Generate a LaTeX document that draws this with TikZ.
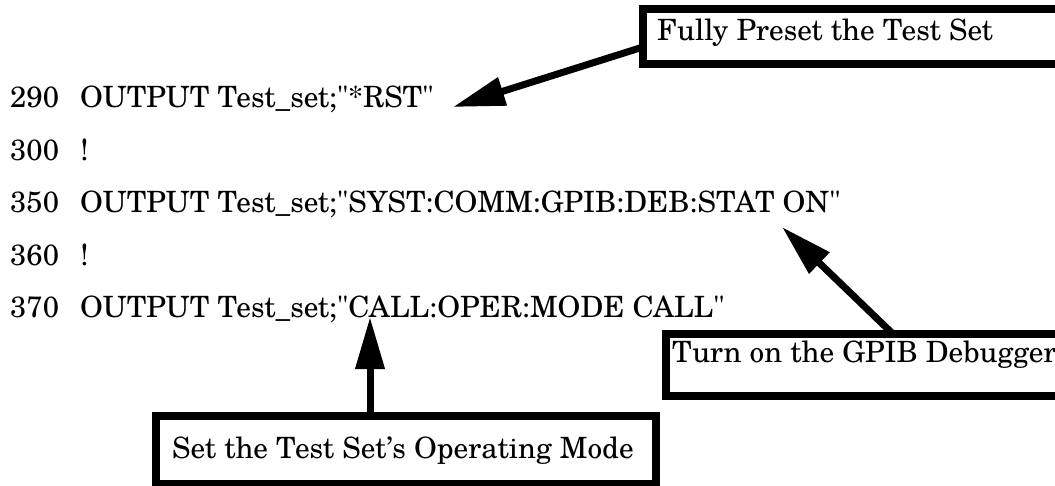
\documentclass[tikz,border=0pt]{standalone}
\usepackage{fontspec}
% family without TeX ligature mapping, so " stays a straight double quote
\newfontfamily\schola{TeX Gyre Schola}
\newcommand\listingfont{\schola\fontsize{29.3}{35}\selectfont}
\usetikzlibrary{arrows.meta}
\begin{document}
\begin{tikzpicture}[x=1pt,y=-1pt,
  lineno/.style={anchor=base west, inner sep=0pt, font=\listingfont},
  code/.style={anchor=base west, inner sep=0pt, font=\listingfont},
  frame/.style={draw, line width=8pt, inner sep=0pt, outer sep=4pt, anchor=north west},
  note/.style={anchor=base west, inner sep=0pt, font=\listingfont},
  pointer/.style={line width=7pt, -{Triangle[length=52pt,width=28pt]}}]
\clip (0,0) rectangle (1055,485);

% program listing
\node[lineno] (n290) at (10,107) {290};
\node[code]   (c290) at (80,107) {OUTPUT Test\_set;"*RST"};
\node[lineno] (n300) at (10,160) {300};
\node[code]   (c300) at (80,160) {!};
\node[lineno] (n350) at (10,212) {350};
\node[code]   (c350) at (80,212) {OUTPUT Test\_set;"SYST:COMM:GPIB:DEB:STAT ON"};
\node[lineno] (n360) at (10,265) {360};
\node[code]   (c360) at (80,265) {!};
\node[lineno] (n370) at (10,317) {370};
\node[code]   (c370) at (80,317) {OUTPUT Test\_set;"CALL:OPER:MODE CALL"};

% callout frames
\node[frame, minimum width=437pt, minimum height=55pt] (fp) at (639,5) {};
\node[note] (fpt) at (657,40) {Fully Preset the Test Set};
\node[frame, minimum width=419pt, minimum height=62pt] (gp) at (662,330) {};
\node[note] (gpt) at (672,362) {Turn on the GPIB Debugger};
\node[frame, minimum width=500pt, minimum height=68pt] (om) at (152,412) {};
\node[note] (omt) at (172,458) {Set the Test Set’s Operating Mode};

% arrow ends
\coordinate (fpout) at (643,47);
\coordinate (rsttip) at (453,107);
\coordinate (gpout) at (893,334);
\coordinate (debtip) at (782,227);
\coordinate (omout) at (370,416);
\coordinate (modetip) at (370,317);

\draw[pointer] (fpout) -- (rsttip);
\draw[pointer] (gpout) -- (debtip);
\draw[pointer] (omout) -- (modetip);
\end{tikzpicture}
\end{document}
